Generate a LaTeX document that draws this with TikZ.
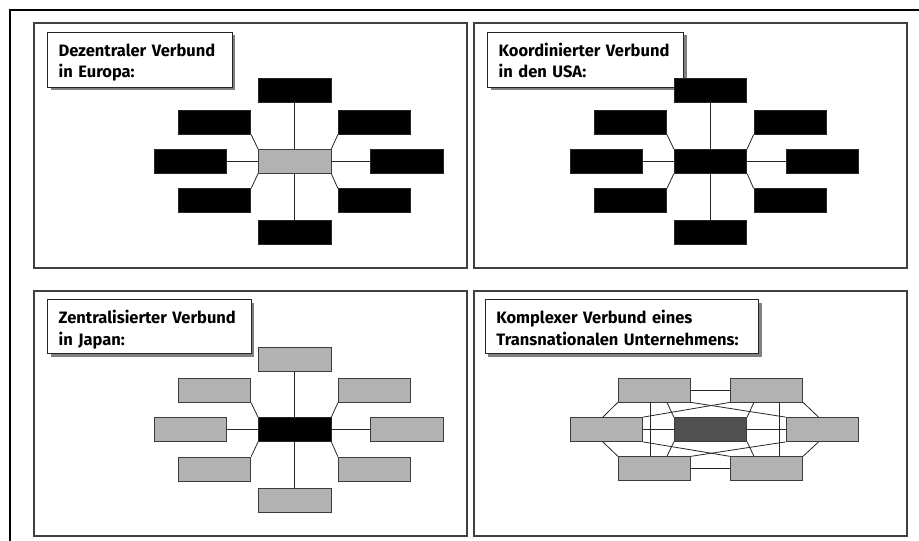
\documentclass[tikz,border=0pt]{standalone}
\usepackage{fontspec}
\setmainfont{Fira Sans}
\usetikzlibrary{calc,shadows}
\definecolor{boxgray}{HTML}{B2B2B2}
\definecolor{darkc}{HTML}{505050}
\definecolor{edgec}{HTML}{3C3C3C}
\tikzset{
  boxbase/.style={minimum width=72.5pt,minimum height=24pt,inner sep=0pt,line width=0.8pt},
  blk/.style={boxbase,draw=black!85,fill=black},
  gry/.style={boxbase,draw=edgec,fill=boxgray},
  drk/.style={boxbase,draw=edgec,fill=darkc},
  conn/.style={draw=black!85,line width=0.8pt},
  panel/.style={draw=black!75,line width=1.1pt},
  titlebox/.style={draw=black!85,fill=white,line width=0.8pt,anchor=north west,
    inner xsep=11pt,inner ysep=0pt,align=left,
    font=\bfseries\fontsize{16.5}{21.6}\selectfont,
    drop shadow={shadow xshift=3pt,shadow yshift=-3pt,fill=black!50,opacity=1}},
}
\newcommand\toprl[1]{\rule{0pt}{#1}}
\newcommand\botrl[1]{\rule[-#1]{0pt}{#1}}
\newcommand\starnet[4]{%
  \begin{scope}[shift={#2}]
    \node[#3] (#1c) at (0,0) {};
    \node[#4] (#1t) at (0,-70.6) {};
    \node[#4] (#1b) at (0,71.2) {};
    \node[#4] (#1l) at (-104.2,0) {};
    \node[#4] (#1r) at (112,0) {};
    \node[#4] (#1ul) at (-80.2,-39.1) {};
    \node[#4] (#1ur) at (79.8,-39.1) {};
    \node[#4] (#1ll) at (-80.2,39.5) {};
    \node[#4] (#1lr) at (79.8,39.5) {};
    \draw[conn] (#1t) -- (#1c);
    \draw[conn] (#1b) -- (#1c);
    \draw[conn] (#1l) -- (#1c);
    \draw[conn] (#1r) -- (#1c);
    \draw[conn] (#1ul.south east) -- (#1c.north west);
    \draw[conn] (#1ur.south west) -- (#1c.north east);
    \draw[conn] (#1ll.north east) -- (#1c.south west);
    \draw[conn] (#1lr.north west) -- (#1c.south east);
  \end{scope}}
\begin{document}
\begin{tikzpicture}[x=1pt,y=-1pt]
  \useasboundingbox[fill=white] (0,0) rectangle (919,541);
  % outer frame (cut at right and bottom)
  \draw[line width=2pt] (919,10) -- (10,10) -- (10,541);
  % panels
  \draw[panel] (34,23) rectangle (907,268);
  \draw[panel] (474,23) -- (474,268);
  \draw[panel] (34,291) rectangle (907,536);
  \draw[panel] (474,291) -- (474,536);
  \draw[panel] (467,23) -- (467,268);
  \draw[panel] (467,291) -- (467,536);
  % cover gap between panels
  \fill[white] (467.6,22) rectangle (473.4,269);
  \fill[white] (467.6,290) rectangle (473.4,537);
  % titles
  \node[titlebox,text width=162.4pt] (t1) at (47.3,31.5)
    {\mbox{\toprl{24.2pt}Dezentraler Verbund}\\\mbox{in Europa:\botrl{9.2pt}}};
  \node[titlebox,text width=174pt] (t2) at (487.3,31.5)
    {\mbox{\toprl{24.2pt}Koordinierter Verbund}\\\mbox{in den USA:\botrl{9.2pt}}};
  \node[titlebox,text width=181.4pt] (t3) at (47.3,299.3)
    {\mbox{\toprl{24pt}Zentralisierter Verbund}\\\mbox{in Japan:\botrl{8.4pt}}};
  \node[titlebox,text width=251.3pt] (t4) at (485,299.3)
    {\mbox{\toprl{24pt}Komplexer Verbund eines}\\\mbox{Transnationalen Unternehmens:\botrl{8.4pt}}};
  % star networks
  \starnet{a}{(294.7,161.3)}{gry}{blk}
  \starnet{b}{(710.5,161.3)}{blk}{blk}
  \starnet{c}{(294.7,429.5)}{blk}{gry}
  % complex network
  \begin{scope}[shift={(710.5,429.5)}]
    \node[drk] (dc) at (0,0) {};
    \node[gry] (dtl) at (-56,-39.5) {};
    \node[gry] (dtr) at (55.9,-39.5) {};
    \node[gry] (dl) at (-104,0) {};
    \node[gry] (dr) at (111.7,0) {};
    \node[gry] (dbl) at (-56,39.2) {};
    \node[gry] (dbr) at (55.9,39.2) {};
    \coordinate (vl) at (-60,0);
    \coordinate (vr) at (68.8,0);
  \end{scope}
  \draw[conn] (dtl) -- (dtr);
  \draw[conn] (dbl) -- (dbr);
  \draw[conn] (dl) -- (dc);
  \draw[conn] (dc) -- (dr);
  \draw[conn] (dtl.south west) -- ($(dl.north west)!0.45!(dl.north east)$);
  \draw[conn] (dbl.north west) -- ($(dl.south west)!0.45!(dl.south east)$);
  \draw[conn] (dtr.south east) -- ($(dr.north west)!0.45!(dr.north east)$);
  \draw[conn] (dbr.north east) -- ($(dr.south west)!0.45!(dr.south east)$);
  \draw[conn] (dtl.south -| vl) -- (dbl.north -| vl);
  \draw[conn] (dtr.south -| vr) -- (dbr.north -| vr);
  \draw[conn] ($(dtl.south west)!0.67!(dtl.south east)$) -- (dc.north west);
  \draw[conn] ($(dtr.south west)!0.33!(dtr.south east)$) -- (dc.north east);
  \draw[conn] ($(dbl.north west)!0.67!(dbl.north east)$) -- (dc.south west);
  \draw[conn] ($(dbr.north west)!0.33!(dbr.north east)$) -- (dc.south east);
  \draw[conn] (dtl.south east) -- (dr.north west);
  \draw[conn] (dtr.south west) -- (dl.north east);
  \draw[conn] (dbl.north east) -- (dr.south west);
  \draw[conn] (dbr.north west) -- (dl.south east);
\end{tikzpicture}
\end{document}
